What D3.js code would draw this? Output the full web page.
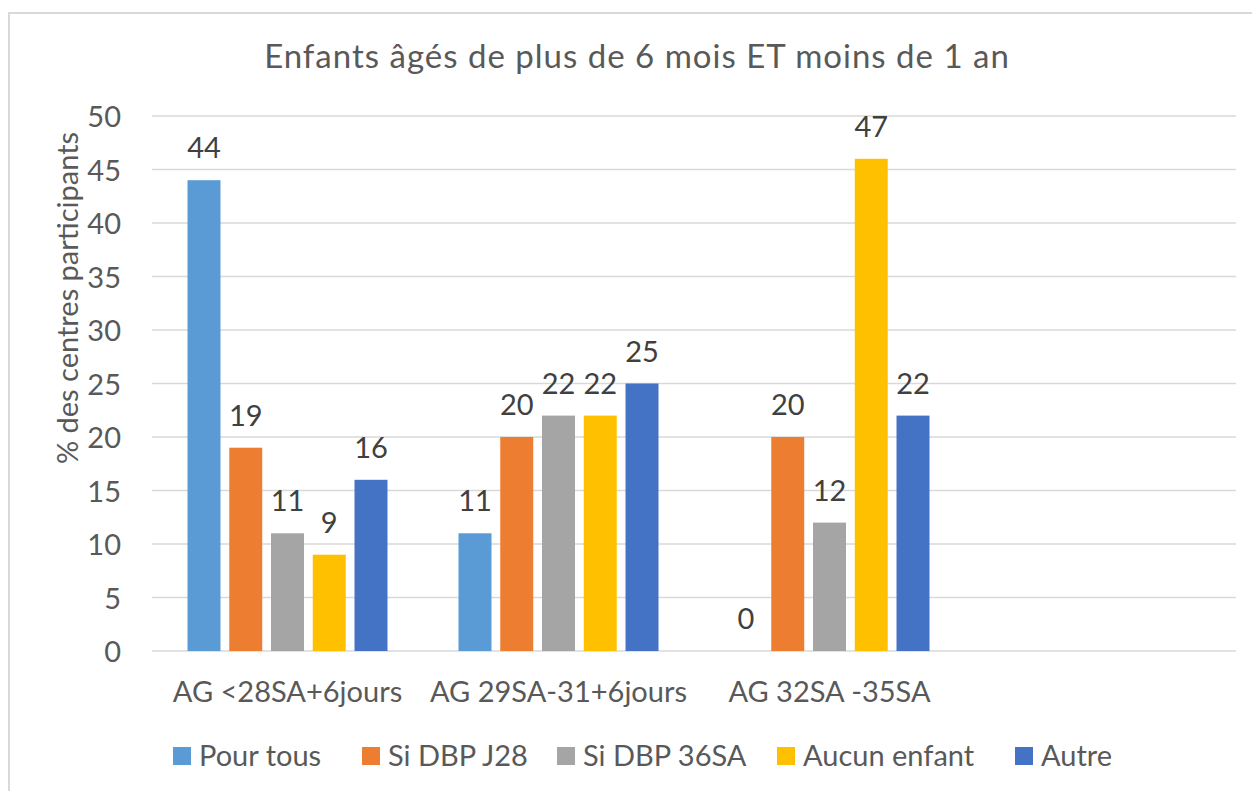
<!DOCTYPE html>
<html>
<head>
<meta charset="utf-8">
<script src="https://cdn.jsdelivr.net/npm/d3@7"></script>
<style>
  body { margin: 0; background: #fff; }
  svg text { font-family: Lato, "Open Sans", sans-serif; fill: #595959; }
</style>
</head>
<body>
<div class="chart"></div>
<script>
// data
var categories = ["AG <28SA+6jours", "AG 29SA-31+6jours", "AG 32SA -35SA", ""];
var seriesNames = ["Pour tous", "Si DBP J28", "Si DBP 36SA", "Aucun enfant", "Autre"];
var seriesColors = ["#5B9BD5", "#ED7D31", "#A5A5A5", "#FFC000", "#4472C4"];
var pourTous = [44, 11, 0];
var siDbpJ28 = [19, 20, 20];
var siDbp36SA = [11, 22, 12];
var aucunEnfant = [9, 22, 46];
var autre = [16, 25, 22];
// labels as printed on the chart (47 is shown above a bar drawn at 46)
var aucunEnfantLabels = [9, 22, 47];
var yTicks = [0, 5, 10, 15, 20, 25, 30, 35, 40, 45, 50];

var seriesValues = [pourTous, siDbpJ28, siDbp36SA, aucunEnfant, autre];
var seriesLabels = [pourTous, siDbpJ28, siDbp36SA, aucunEnfantLabels, autre];

var width = 1252, height = 791;
var svg = d3.select("div.chart")
    .append("svg")
    .attr("width", width)
    .attr("height", height);

// chart border
svg.append("rect")
    .attr("x", 9).attr("y", 13)
    .attr("width", 1260).attr("height", 790)
    .attr("fill", "none")
    .attr("stroke", "#d9d9d9")
    .attr("stroke-width", 2);

var x = d3.scaleBand().domain(categories).range([152, 1236]).padding(0);
var xs = d3.scaleBand().domain(seriesNames).range([-100, 100]).paddingInner(0.21).paddingOuter(0);
var y = d3.scaleLinear().domain([0, 50]).range([651, 116]);

// gridlines
svg.append("g")
    .selectAll("line")
    .data(yTicks)
    .enter().append("line")
    .attr("x1", 152).attr("x2", 1236)
    .attr("y1", function(d){ return y(d); })
    .attr("y2", function(d){ return y(d); })
    .attr("stroke", "#d9d9d9")
    .attr("stroke-width", 1.5);

// y tick labels
svg.append("g")
    .selectAll("text")
    .data(yTicks)
    .enter().append("text")
    .text(function(d){ return d; })
    .attr("x", 121)
    .attr("y", function(d){ return y(d) + 11; })
    .attr("text-anchor", "end")
    .attr("font-size", "29px");

// bars
var groups = svg.append("g")
    .selectAll("g")
    .data(seriesNames)
    .enter().append("g")
    .attr("fill", function(d, i){ return seriesColors[i]; });

groups.each(function(name, si){
    var g = d3.select(this);
    var vals = seriesValues[si];
    g.selectAll("rect")
        .data(vals)
        .enter().append("rect")
        .attr("x", function(d, ci){ return x(categories[ci]) + x.bandwidth() / 2 + xs(name); })
        .attr("width", xs.bandwidth())
        .attr("y", function(d){ return y(d); })
        .attr("height", function(d){ return y(0) - y(d); });
    g.selectAll("text")
        .data(seriesLabels[si])
        .enter().append("text")
        .text(function(d){ return d; })
        .attr("x", function(d, ci){ return x(categories[ci]) + x.bandwidth() / 2 + xs(name) + xs.bandwidth() / 2; })
        .attr("y", function(d, ci){ return y(vals[ci]) - 22; })
        .attr("text-anchor", "middle")
        .attr("font-size", "29px")
        .style("fill", "#404040");
});

// category labels
svg.append("g")
    .selectAll("text")
    .data(categories)
    .enter().append("text")
    .text(function(d){ return d; })
    .attr("x", function(d){ return x(d) + x.bandwidth() / 2; })
    .attr("y", 702)
    .attr("text-anchor", "middle")
    .attr("font-size", "29px");

// title
svg.append("text")
    .text("Enfants âgés de plus de 6 mois ET moins de 1 an")
    .attr("x", 637)
    .attr("y", 68)
    .attr("text-anchor", "middle")
    .attr("font-size", "33px")
    .attr("letter-spacing", "1px");

// y axis title
svg.append("text")
    .text("% des centres participants")
    .attr("transform", "translate(78,298) rotate(-90)")
    .attr("text-anchor", "middle")
    .attr("font-size", "29px");

// legend
var legendX = [173, 362, 557, 777, 1015];
var legend = svg.append("g")
    .selectAll("g")
    .data(seriesNames)
    .enter().append("g")
    .attr("transform", function(d, i){ return "translate(" + legendX[i] + ",747)"; });
legend.append("rect")
    .attr("width", 18).attr("height", 18)
    .attr("fill", function(d, i){ return seriesColors[i]; });
legend.append("text")
    .text(function(d){ return d; })
    .attr("x", 26)
    .attr("y", 19)
    .attr("font-size", "29px");
</script>
</body>
</html>
